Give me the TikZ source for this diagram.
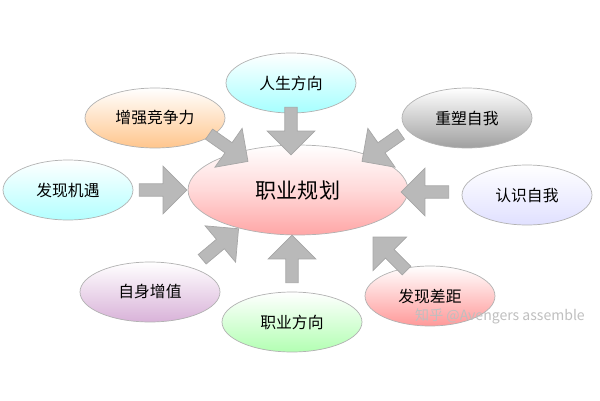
\documentclass[tikz,border=0pt]{standalone}
\usepackage{fontspec}
\setmainfont{Noto Sans CJK SC}
\usetikzlibrary{shapes.arrows, shapes.geometric, positioning}

\tikzset{
	bubble/.style={ellipse, draw=gray!60, minimum width=2.6cm, minimum height=1.2cm,
		font=\small, top color=white, inner sep=1pt},
	blockarrow/.style={single arrow, fill=gray!55, draw=gray!70, minimum width=0.95cm,
		single arrow head extend=0.12cm, minimum height=0.95cm, inner sep=1pt}
}

\begin{document}
\begin{tikzpicture}[x=0.02cm, y=-0.02cm]
	\useasboundingbox (0,0) rectangle (600,400);
	
	\node[ellipse, draw=gray!60, minimum width=4.4cm, minimum height=1.8cm,
		top color=white, bottom color=red!35, middle color=red!15, font=\large] (core) at (298,190) {职业规划};
	
	% satellites
	\node[bubble, bottom color=cyan!35] (life) at (291,83) {人生方向};
	\node[bubble, minimum width=2.8cm, bottom color=orange!45] (compete) at (155,118) {增强竞争力};
	\node[bubble, bottom color=gray!75] (reshape) at (467,118) {重塑自我};
	\node[bubble, bottom color=cyan!30] (chance) at (68,190) {发现机遇};
	\node[bubble, bottom color=blue!12] (know) at (527,195) {认识自我};
	\node[bubble, minimum width=2.8cm, bottom color=violet!30] (value) at (150,292) {自身增值};
	\node[bubble, minimum width=2.8cm, bottom color=green!30] (career) at (292,322) {职业方向};
	\node[bubble, bottom color=red!40] (gap) at (430,296) {发现差距};
	
	% arrows
	\node[blockarrow, rotate=-90] (a1) at (291,128) {};
	\node[blockarrow, rotate=-35] (a2) at (226,146) {};
	\node[blockarrow, rotate=-145] (a3) at (384,146) {};
	\node[blockarrow, rotate=0] (a4) at (160,190) {};
	\node[blockarrow, rotate=180] (a5) at (428,192) {};
	\node[blockarrow, rotate=40] (a6) at (218,246) {};
	\node[blockarrow, rotate=90] (a7) at (292,262) {};
	\node[blockarrow, rotate=135] (a8) at (392,256) {};
	
	\node[text=gray!50, font=\footnotesize] (mark) at (500,316) {知乎 @Avengers assemble};
\end{tikzpicture}
\end{document}
